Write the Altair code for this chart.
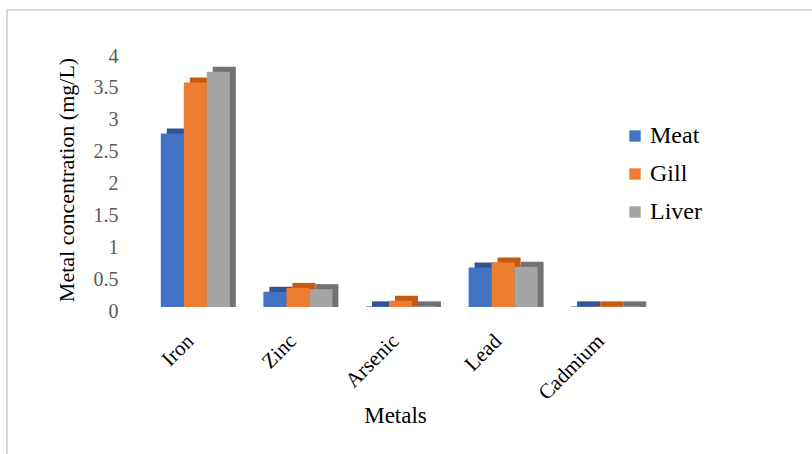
import json
import altair as alt
import pandas as pd

metals = ["Iron", "Zinc", "Arsenic", "Lead", "Cadmium"]
series = ["Meat", "Gill", "Liver"]
meat = [2.72, 0.24, 0.01, 0.62, 0.01]
gill = [3.52, 0.30, 0.10, 0.70, 0.01]
liver = [3.69, 0.28, 0.01, 0.63, 0.01]
colors = ["#4472C4", "#ED7D31", "#A5A5A5"]
dark_colors = ["#2F5597", "#C55A11", "#737373"]
y_ticks = [0, 0.5, 1, 1.5, 2, 2.5, 3, 3.5, 4]

rows = []
for si, (s, vals, dc) in enumerate(zip(series, [meat, gill, liver], dark_colors)):
    for mi, (m, v) in enumerate(zip(metals, vals)):
        rows.append({"metal": m, "mi": mi, "series": s, "si": si, "value": v, "dark": dc})
df = pd.DataFrame(rows)

FONT = "Liberation Serif"
GROUP = 0.6725          # fraction of a category occupied by the three bars
BAR = GROUP / 3

label_expr = json.dumps(metals) + "[round(datum.value - 0.5)]"

x_axis = alt.Axis(title="Metals", values=[i + 0.5 for i in range(len(metals))],
                  labelExpr=label_expr, labelAngle=-45, labelFont=FONT,
                  labelFontSize=21, labelColor="#000000", labelPadding=23,
                  labelOffset=-13,
                  domain=False, ticks=False, grid=False,
                  titleFont=FONT, titleFontSize=23, titleFontWeight="normal",
                  titleColor="#000000", titleX=251, titleY=97)
x_enc = alt.X("x0:Q", scale=alt.Scale(domain=[0, len(metals)], nice=False, zero=False),
              axis=x_axis)
x2_enc = alt.X2("x1:Q")
y_enc = alt.Y("value:Q", scale=alt.Scale(domain=[0, 4], nice=False, padding=0),
              axis=alt.Axis(title="Metal concentration (mg/L)", values=y_ticks,
                            format="~g", labelFont=FONT, labelFontSize=20,
                            labelColor="#595959", labelPadding=26, labelOffset=4,
                            domain=False, ticks=False, grid=False,
                            titleFont=FONT, titleFontSize=22, titleFontWeight="normal",
                            titleColor="#000000", titlePadding=15))
y2_enc = alt.Y2("zero:Q")

base = alt.Chart(df).transform_calculate(
    x0=f"datum.mi + {(1 - GROUP) / 2} + datum.si * {BAR}",
    x1=f"datum.mi + {(1 - GROUP) / 2} + (datum.si + 1) * {BAR}",
    zero="0",
)

back = base.mark_bar(xOffset=6, x2Offset=6, yOffset=-5).encode(
    x=x_enc, x2=x2_enc, y=y_enc, y2=y2_enc,
    color=alt.Color("dark:N", scale=None, legend=None),
)

front = base.mark_bar().encode(
    x=x_enc, x2=x2_enc, y=y_enc, y2=y2_enc,
    color=alt.Color("series:N", sort=series,
                    scale=alt.Scale(domain=series, range=colors),
                    legend=alt.Legend(title=None, orient="none", legendX=479, legendY=72,
                                      symbolType="square", symbolSize=130,
                                      symbolStrokeWidth=0, labelFont=FONT,
                                      labelFontSize=24, labelColor="#000000",
                                      rowPadding=14, labelOffset=3)),
)

frame = alt.Chart(alt.Data(values=[{}])).mark_rect(
    fillOpacity=0, stroke="#d9d9d9", strokeWidth=2
).encode(x=alt.value(-137), x2=alt.value(720), y=alt.value(-42), y2=alt.value(500))

chart = alt.layer(frame, back, front).resolve_scale(color="independent").properties(
    width=513, height=255,
    autosize=alt.AutoSizeParams(type="none"),
    padding={"left": 144, "top": 52, "right": 155, "bottom": 147},
    background="white",
).configure(font=FONT).configure_view(stroke=None)

chart.save("out.html", embed_options={"renderer": "svg", "actions": False})
